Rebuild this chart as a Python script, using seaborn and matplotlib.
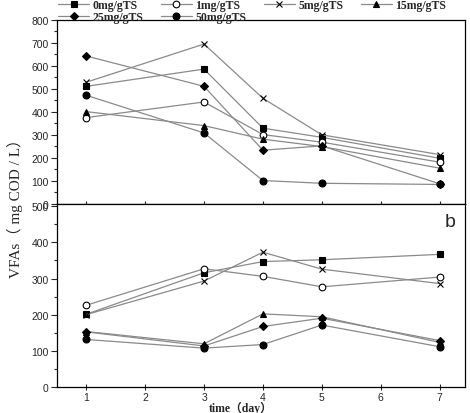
import pandas as pd
import matplotlib
matplotlib.use("Agg")
import matplotlib.pyplot as plt
import seaborn as sns
from matplotlib.ticker import MultipleLocator

# data
days = [1, 3, 4, 5, 7]
labels = ["0mg/gTS", "1mg/gTS", "5mg/gTS", "15mg/gTS", "25mg/gTS", "50mg/gTS"]

top_0 = [510, 585, 328, 288, 197]
top_1 = [374, 442, 300, 267, 180]
top_5 = [528, 694, 458, 299, 213]
top_15 = [400, 339, 280, 248, 154]
top_25 = [642, 510, 232, 251, 86]
top_50 = [471, 307, 100, 88, 83]

bot_0 = [201, 316, 347, 352, 367]
bot_1 = [226, 327, 306, 277, 304]
bot_5 = [200, 293, 373, 326, 286]
bot_15 = [153, 119, 202, 194, 123]
bot_25 = [152, 113, 167, 190, 128]
bot_50 = [131, 107, 117, 171, 111]

top_vals = [top_0, top_1, top_5, top_15, top_25, top_50]
bot_vals = [bot_0, bot_1, bot_5, bot_15, bot_25, bot_50]

markers = ["s", "o", "x", "^", "D", "o"]
faces = ["black", "white", "black", "black", "black", "black"]
sizes = [4.2, 4.8, 5, 5, 4.2, 5]

sns.set_style("ticks")
plt.rcParams["font.family"] = ["Liberation Sans", "DejaVu Sans"]

fig = plt.figure(figsize=(4.7, 4.14), dpi=100)
ax1 = fig.add_axes([0.121, 0.506, 0.868, 0.444])
ax2 = fig.add_axes([0.121, 0.0635, 0.868, 0.4425], sharex=ax1)

handles = []
for ax, vals in [(ax1, top_vals), (ax2, bot_vals)]:
    for i, lab in enumerate(labels):
        df = pd.DataFrame({"day": days, "vfa": vals[i]})
        sns.lineplot(data=df, x="day", y="vfa", ax=ax, color="#8a8a8a", lw=0.9,
                     marker=markers[i], markersize=sizes[i], markerfacecolor=faces[i],
                     markeredgecolor="black", markeredgewidth=0.8, label=lab)
        if ax is ax1:
            handles.append(ax.lines[-1])
    ax.get_legend().remove()
    ax.set_xlabel("")
    ax.set_ylabel("")
    for s in ax.spines.values():
        s.set_linewidth(0.9)
        s.set_color("black")
    ax.yaxis.set_minor_locator(MultipleLocator(50))
    ax.tick_params(axis="y", which="major", length=4, width=0.8, labelsize=7.5, pad=2)
    ax.tick_params(axis="y", which="minor", length=2.5, width=0.8)
    ax.tick_params(axis="x", which="major", direction="inout", length=5, width=0.8,
                   labelsize=7.5, pad=1)

ax1.set_ylim(0, 800)
ax1.yaxis.set_major_locator(MultipleLocator(100))
ax1.tick_params(axis="x", labelbottom=False)
ax2.set_ylim(0, 508)
ax2.yaxis.set_major_locator(MultipleLocator(100))
ax2.set_xlim(0.5, 7.43)
ax2.set_xticks([1, 2, 3, 4, 5, 6, 7])

ax2.text(0.963, 0.9, "b", transform=ax2.transAxes, ha="center", va="center",
         fontsize=14, family="Liberation Sans")

ax2.set_xlabel("time（day）", family=["Liberation Serif", "Noto Sans CJK SC"],
               fontweight="bold", fontsize=8.5)
ax2.xaxis.set_label_coords(0.45, -0.077)

fig.text(0.032, 0.505, "VFAs（ mg COD / L）", rotation=90, ha="center", va="center",
         fontsize=11, family=["Liberation Serif", "Noto Sans CJK SC"])

order = [0, 4, 1, 5, 2, 3]
fig.legend([handles[k] for k in order], [labels[k] for k in order],
           loc="upper left", bbox_to_anchor=(0.124, 1.0), ncol=4, frameon=False,
           prop={"family": "Liberation Serif", "weight": "bold", "size": 8.5},
           handlelength=2.6, handletextpad=0.3, columnspacing=1.5,
           labelspacing=0.0, borderaxespad=0, borderpad=0)

fig.savefig("out.png", dpi=100)
